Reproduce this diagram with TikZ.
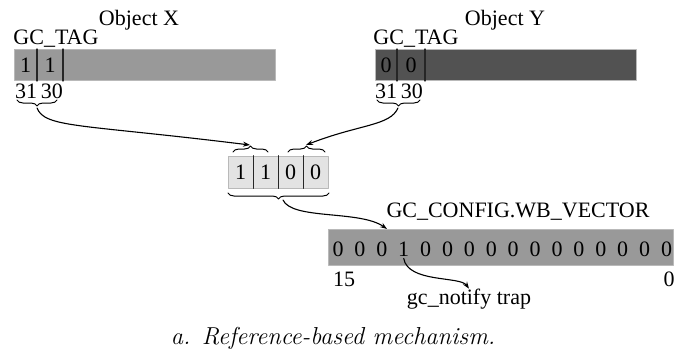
\documentclass[tikz,border=0pt]{standalone}
\usepackage{fontspec}
\newfontfamily\labfont{Liberation Serif}
\usetikzlibrary{arrows.meta,decorations.pathreplacing}

\tikzset{
  lab/.style={inner sep=0pt, font=\labfont\fontsize{22}{25}\selectfont},
  objbar/.style={draw=gray!55, line width=0.7pt, minimum width=261pt, minimum height=31pt, inner sep=0pt, anchor=north west},
  divider/.style={line width=1.1pt, black!85},
  bitcell/.style={draw=gray!55, fill=gray!22, line width=0.7pt, minimum width=25pt, minimum height=32pt, inner sep=0pt, font=\labfont\fontsize{22}{25}\selectfont},
  brc/.style={decorate, decoration={brace, amplitude=6pt}, line width=1pt},
  link/.style={line width=1.1pt, -{Stealth[length=7pt, width=5pt]}},
  plain/.style={line width=1.1pt}
}

\begin{document}
\begin{tikzpicture}[x=1pt, y=-1pt, line cap=round, line join=round]

  %% ════ Object X ════
  \node[objbar, fill=gray!80] (barX) at (14,49) {};
  \draw[divider] (37,49) -- (37,81);
  \draw[divider] (63,49) -- (63,81);
  \node[lab] (x31) at (25.5,65) {1};
  \node[lab] (x30) at (50,65) {1};
  \node[lab] (tagX) at (56,39) {GC\_TAG};
  \node[lab] (nameX) at (139,20) {Object X};
  \node[lab] (numX) at (39,91) {31\,30};
  \draw[brc] (57,100) -- (17,100);
  \coordinate (tipX) at (37,108);

  %% ════ Object Y ════
  \node[objbar, fill=black!68] (barY) at (375,49) {};
  \draw[divider] (397,49) -- (397,81);
  \draw[divider] (425,49) -- (425,81);
  \node[lab] (y31) at (386,65) {0};
  \node[lab] (y30) at (411,65) {0};
  \node[lab] (tagY) at (416,39) {GC\_TAG};
  \node[lab] (nameY) at (505,20) {Object Y};
  \node[lab] (numY) at (399,91) {31\,30};
  \draw[brc] (420,100) -- (377,100);
  \coordinate (tipY) at (398,108);

  %% ════ 中间四格 ════
  \node[bitcell] (m1) at (240.5,172) {1};
  \node[bitcell] (m2) at (265.5,172) {1};
  \node[bitcell] (m3) at (290.5,172) {0};
  \node[bitcell] (m4) at (315.5,172) {0};
  \draw[divider] (m1.north east) -- (m1.south east);
  \draw[divider] (m2.north east) -- (m2.south east);
  \draw[divider] (m3.north east) -- (m3.south east);
  \draw[brc] (233,152) -- (268,152);
  \draw[brc] (288,152) -- (325,152);
  \draw[brc] (329,193) -- (228,193);
  \coordinate (inX) at (250,145);
  \coordinate (inY) at (306,145);
  \coordinate (outM) at (283,200);

  %% ════ GC_CONFIG.WB_VECTOR ════
  \node[objbar, fill=gray!80, minimum width=345pt, minimum height=36pt] (wbbar) at (328,229) {};
  \foreach \b [count=\i from 0] in {0,0,0,1,0,0,0,0,0,0,0,0,0,0,0,0}
    \node[lab] (wb\i) at (338+\i*21.9,249) {\b};
  \node[lab] (wbname) at (518,212) {GC\_CONFIG.WB\_VECTOR};
  \node[lab] (hi) at (344,279) {15};
  \node[lab] (lo) at (669,279) {0};
  \node[lab] (notify) at (469,299) {gc\_notify trap};
  \coordinate (wbhit) at (387,229);

  %% ════ 连线 ════
  \draw[link] (tipX) .. controls (45,128) and (80,124) .. (inX);
  \draw[link] (tipY) .. controls (390,126) and (360,124) .. (inY);
  \draw[link] (outM) .. controls (292,220) and (360,210) .. (wbhit);
  \draw[link] ([yshift=-2pt]wb3.south) .. controls (408,283) and (460,276) .. (notify.north);

  %% ════ 标题 ════
  \node[inner sep=0pt, font=\fontsize{24.5}{28}\selectfont\itshape] (cap) at (333,338) {a. Reference-based mechanism.};

  \pgfresetboundingbox
  \path[use as bounding box] (0,0) rectangle (674,356);
\end{tikzpicture}
\end{document}
